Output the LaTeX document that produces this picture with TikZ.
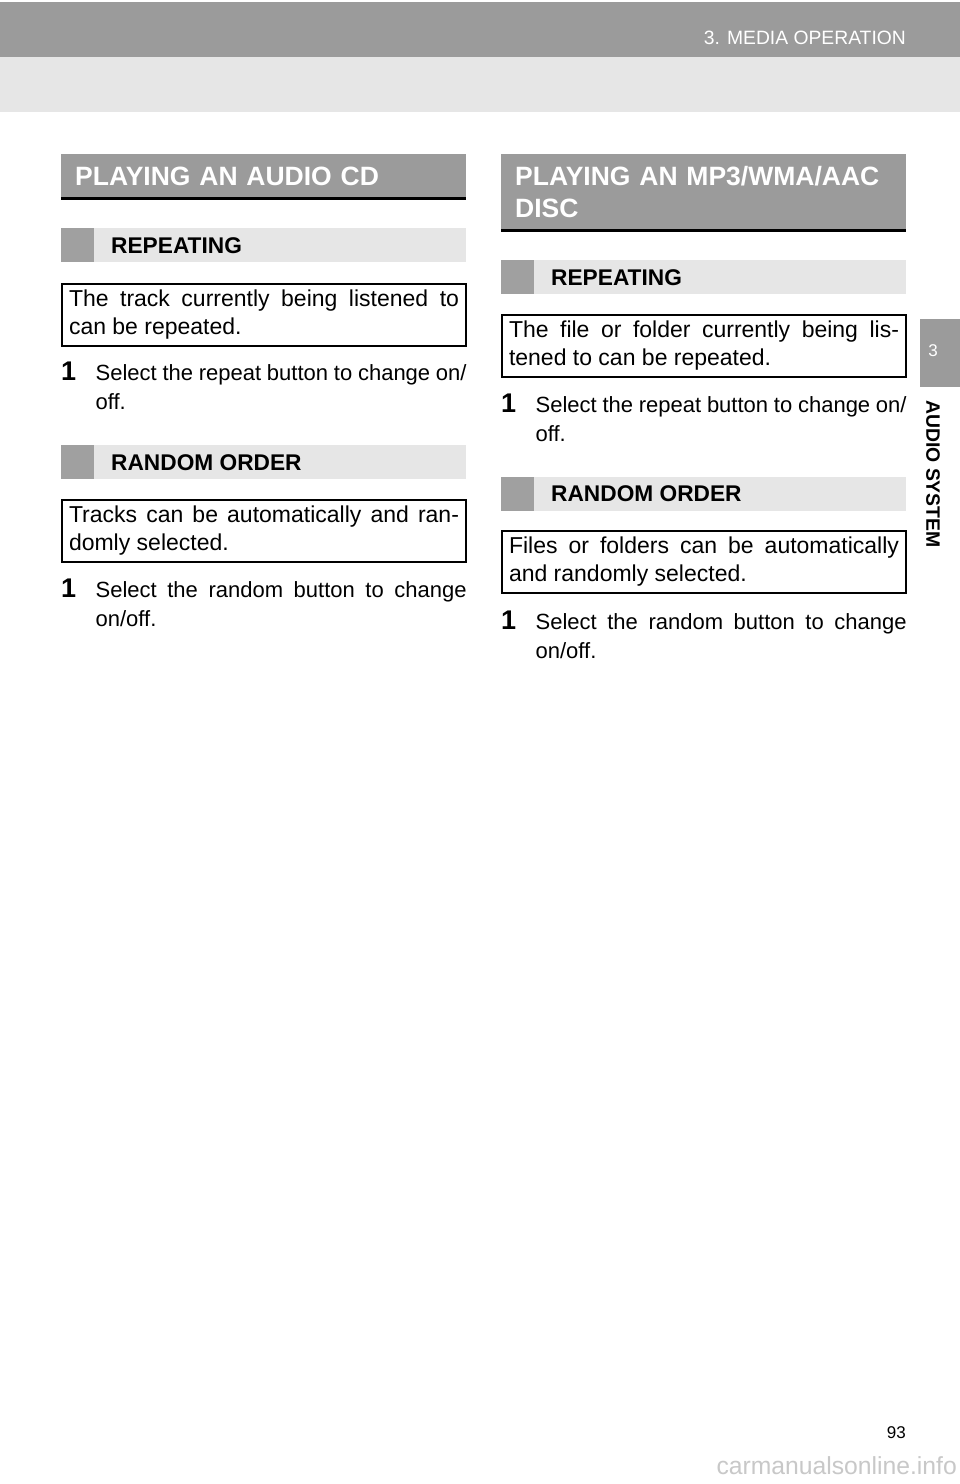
\documentclass[tikz,border=0pt]{standalone}
\usepackage{fontspec}
\setmainfont{Liberation Sans}
\usetikzlibrary{positioning}
\definecolor{bargray}{RGB}{155,155,155}
\definecolor{bandgray}{RGB}{230,230,230}
\definecolor{tabgray}{RGB}{160,160,160}
\definecolor{markgray}{RGB}{200,200,200}
\tolerance=9999

\begin{document}
\begin{tikzpicture}[
        x=1pt, y=-1pt,
        title/.style={anchor=base west, inner sep=0pt, text=white, text width=380pt, align=left, font=\fontsize{26.5}{32}\selectfont\bfseries},
        subhead/.style={anchor=base west, inner sep=0pt, font=\fontsize{22.7}{27}\selectfont\bfseries},
        notebox/.style={draw, line width=2pt, anchor=north west, text width=390pt, align=justify, minimum height=62pt, inner xsep=7pt, inner ysep=0pt, font=\fontsize{23}{28}\selectfont},
        stepnum/.style={anchor=base west, inner sep=0pt, font=\fontsize{27}{27}\selectfont\bfseries},
        steptext/.style={inner sep=0pt, text width=371pt, align=justify, font=\fontsize{22}{29}\selectfont}
    ]
        \useasboundingbox (0,0) rectangle (960,1484);
        \fill[white] (0,0) rectangle (960,1484);

        % page head
        \fill[bargray] (0,2) rectangle (960,57);
        \fill[bandgray] (0,57) rectangle (960,112);
        \node[anchor=base east, inner sep=0pt, text=white, font=\fontsize{19.3}{22}\selectfont] (head) at (906,44) {3. MEDIA OPERATION};

        % side tab
        \fill[bargray] (920,319) rectangle (960,387);
        \node[text=white, font=\fontsize{17}{20}\selectfont] (tabnum) at (933,351) {3};
        \node[rotate=-90, font=\fontsize{19.4}{22}\selectfont\bfseries] (tabname) at (933,474) {AUDIO SYSTEM};

        % left column: audio CD
        \fill[bargray] (61,154) rectangle (466,197);
        \fill[black] (61,197) rectangle (466,200);
        \node[title] (cdtitle) at (75,185) {PLAYING AN AUDIO CD};

        \fill[bandgray] (61,228) rectangle (466,262);
        \fill[tabgray] (61,228) rectangle (94,262);
        \node[subhead] (cdrepeat) at (111,253) {REPEATING};
        \node[notebox] (cdrepeatnote) at (61,283) {The track currently being listened to can be repeated.};
        \node[stepnum] (cdrepeatnum) at (61,380) {1};
        \node[steptext, anchor=base west, base right=19pt of cdrepeatnum] (cdrepeatstep) {Select the repeat button to change on/\linebreak off.};

        \fill[bandgray] (61,445) rectangle (466,479);
        \fill[tabgray] (61,445) rectangle (94,479);
        \node[subhead] (cdrandom) at (111,470) {RANDOM ORDER};
        \node[notebox] (cdrandomnote) at (61,499) {Tracks can be automatically and ran-\linebreak domly selected.};
        \node[stepnum] (cdrandomnum) at (61,597) {1};
        \node[steptext, anchor=base west, base right=19pt of cdrandomnum] (cdrandomstep) {Select the random button to change\linebreak on/off.};

        % right column: MP3/WMA/AAC disc
        \fill[bargray] (501,154) rectangle (906,229);
        \fill[black] (501,229) rectangle (906,232);
        \node[title] (mptitle) at (515,185) {PLAYING AN MP3/WMA/AAC\\DISC};

        \fill[bandgray] (501,260) rectangle (906,294);
        \fill[tabgray] (501,260) rectangle (534,294);
        \node[subhead] (mprepeat) at (551,285) {REPEATING};
        \node[notebox] (mprepeatnote) at (501,314) {The file or folder currently being lis-\linebreak tened to can be repeated.};
        \node[stepnum] (mprepeatnum) at (501,412) {1};
        \node[steptext, anchor=base west, base right=19pt of mprepeatnum] (mprepeatstep) {Select the repeat button to change on/\linebreak off.};

        \fill[bandgray] (501,477) rectangle (906,511);
        \fill[tabgray] (501,477) rectangle (534,511);
        \node[subhead] (mprandom) at (551,501) {RANDOM ORDER};
        \node[notebox] (mprandomnote) at (501,530) {Files or folders can be automatically\linebreak and randomly selected.};
        \node[stepnum] (mprandomnum) at (501,629) {1};
        \node[steptext, anchor=base west, base right=19pt of mprandomnum] (mprandomstep) {Select the random button to change\linebreak on/off.};

        % page foot
        \node[anchor=base east, inner sep=0pt, font=\fontsize{17}{20}\selectfont] (pagenum) at (906,1438) {93};
        \node[anchor=base east, inner sep=0pt, text=markgray, font=\fontsize{24.7}{28}\selectfont] (mark) at (957,1474) {carmanualsonline.info};
    \end{tikzpicture}
\end{document}
